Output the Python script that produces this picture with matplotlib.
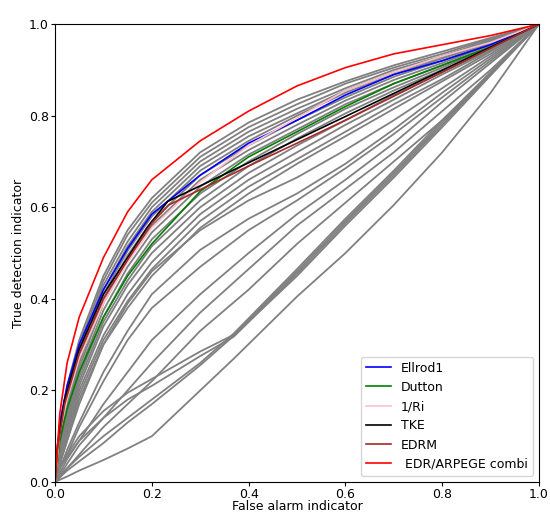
import numpy as np
import matplotlib
matplotlib.use('Agg')
import matplotlib.pyplot as plt

# common false alarm grid for the curves
far = [0, 0.01, 0.025, 0.05, 0.1, 0.15, 0.2, 0.3, 0.4, 0.5, 0.6, 0.7, 0.8, 0.9, 1.0]
# the lower bundle meets near far = 0.37
far_low = [0, 0.01, 0.025, 0.05, 0.1, 0.15, 0.2, 0.3, 0.37, 0.5, 0.6, 0.7, 0.8, 0.9, 1.0]

# grey curves (other indicators), true detection at each far point
grey_upper = [
    [0, 0.12, 0.21, 0.31, 0.45, 0.55, 0.62, 0.72, 0.785, 0.835, 0.875, 0.91, 0.94, 0.97, 1],
    [0, 0.11, 0.20, 0.30, 0.44, 0.54, 0.61, 0.71, 0.775, 0.825, 0.87, 0.905, 0.935, 0.968, 1],
    [0, 0.10, 0.19, 0.29, 0.43, 0.525, 0.60, 0.70, 0.765, 0.815, 0.86, 0.90, 0.93, 0.965, 1],
    [0, 0.10, 0.18, 0.28, 0.42, 0.515, 0.59, 0.69, 0.755, 0.805, 0.855, 0.895, 0.928, 0.963, 1],
    [0, 0.09, 0.17, 0.27, 0.41, 0.505, 0.58, 0.68, 0.745, 0.80, 0.85, 0.89, 0.925, 0.96, 1],
    [0, 0.09, 0.16, 0.26, 0.40, 0.495, 0.57, 0.67, 0.735, 0.79, 0.84, 0.885, 0.92, 0.958, 1],
    [0, 0.08, 0.15, 0.25, 0.39, 0.485, 0.56, 0.66, 0.725, 0.78, 0.833, 0.878, 0.915, 0.955, 1],
    [0, 0.07, 0.14, 0.24, 0.375, 0.47, 0.545, 0.645, 0.715, 0.77, 0.825, 0.87, 0.91, 0.952, 1],
    [0, 0.07, 0.13, 0.23, 0.36, 0.455, 0.53, 0.63, 0.70, 0.76, 0.815, 0.862, 0.905, 0.95, 1],
    [0, 0.06, 0.12, 0.22, 0.35, 0.44, 0.515, 0.615, 0.69, 0.75, 0.805, 0.855, 0.90, 0.948, 1],
    [0, 0.06, 0.12, 0.21, 0.34, 0.43, 0.50, 0.60, 0.675, 0.735, 0.79, 0.845, 0.895, 0.945, 1],
    [0, 0.05, 0.11, 0.20, 0.32, 0.41, 0.48, 0.585, 0.66, 0.72, 0.78, 0.835, 0.89, 0.942, 1],
    [0, 0.05, 0.10, 0.19, 0.31, 0.395, 0.465, 0.57, 0.645, 0.705, 0.765, 0.825, 0.88, 0.94, 1],
    [0, 0.04, 0.09, 0.18, 0.30, 0.38, 0.45, 0.555, 0.63, 0.695, 0.755, 0.815, 0.875, 0.935, 1],
]
grey_middle = [
    [0, 0.04, 0.09, 0.17, 0.30, 0.39, 0.46, 0.55, 0.615, 0.665, 0.725, 0.79, 0.86, 0.93, 1],
    [0, 0.03, 0.07, 0.13, 0.24, 0.33, 0.41, 0.507, 0.575, 0.63, 0.695, 0.77, 0.85, 0.925, 1],
    [0, 0.03, 0.06, 0.12, 0.22, 0.31, 0.38, 0.47, 0.55, 0.615, 0.685, 0.76, 0.84, 0.92, 1],
    [0, 0.02, 0.05, 0.09, 0.17, 0.24, 0.31, 0.41, 0.50, 0.585, 0.66, 0.74, 0.83, 0.915, 1],
    [0, 0.015, 0.04, 0.08, 0.14, 0.20, 0.26, 0.37, 0.465, 0.56, 0.64, 0.72, 0.81, 0.90, 1],
    [0, 0.01, 0.03, 0.06, 0.12, 0.17, 0.22, 0.33, 0.42, 0.52, 0.61, 0.70, 0.79, 0.89, 1],
]
grey_lower = [
    [0, 0.03, 0.055, 0.09, 0.14, 0.18, 0.21, 0.275, 0.318, 0.455, 0.565, 0.67, 0.78, 0.89, 1],
    [0, 0.035, 0.06, 0.10, 0.155, 0.195, 0.225, 0.285, 0.322, 0.46, 0.57, 0.675, 0.785, 0.892, 1],
    [0, 0.015, 0.03, 0.055, 0.10, 0.14, 0.18, 0.26, 0.325, 0.465, 0.575, 0.68, 0.79, 0.895, 1],
    [0, 0.01, 0.025, 0.045, 0.085, 0.13, 0.17, 0.255, 0.32, 0.45, 0.56, 0.665, 0.775, 0.888, 1],
    [0, 0.005, 0.012, 0.025, 0.048, 0.073, 0.10, 0.20, 0.27, 0.405, 0.50, 0.605, 0.72, 0.85, 1],
]

# highlighted indicators
ellrod1 = [0, 0.13, 0.21, 0.30, 0.42, 0.51, 0.585, 0.67, 0.74, 0.79, 0.845, 0.89, 0.92, 0.955, 1]
dutton = [0, 0.09, 0.16, 0.24, 0.36, 0.45, 0.52, 0.635, 0.71, 0.765, 0.82, 0.87, 0.91, 0.95, 1]
inv_ri = [0, 0.11, 0.18, 0.27, 0.39, 0.48, 0.555, 0.655, 0.735, 0.795, 0.855, 0.895, 0.93, 0.96, 1]
combi = [0, 0.15, 0.26, 0.36, 0.49, 0.59, 0.66, 0.745, 0.81, 0.865, 0.905, 0.935, 0.955, 0.975, 1]

# TKE / EDRM only have a few thresholds
tke_far = [0, 0.005, 0.02, 0.05, 0.1, 0.15, 0.19, 0.233, 1.0]
tke_pod = [0, 0.08, 0.18, 0.29, 0.41, 0.49, 0.555, 0.613, 1.0]
edrm_far = [0, 0.005, 0.02, 0.05, 0.1, 0.15, 0.2, 0.235, 0.4, 0.6, 0.8, 1.0]
edrm_pod = [0, 0.07, 0.17, 0.28, 0.40, 0.485, 0.565, 0.605, 0.69, 0.79, 0.895, 1.0]


fig = plt.figure(figsize=(5.5, 5.13), dpi=100)
ax = fig.add_axes([0.1, 0.0604, 0.88, 0.8926])

for pod in grey_upper + grey_middle:
    ax.plot(far, pod, color='grey', lw=1.3)
for pod in grey_lower:
    ax.plot(far_low, pod, color='grey', lw=1.3)

ax.plot(far, ellrod1, color='blue', lw=1.2, label='Ellrod1')
ax.plot(far, dutton, color='green', lw=1.2, label='Dutton')
ax.plot(far, inv_ri, color='pink', lw=1.2, label='1/Ri')
ax.plot(tke_far, tke_pod, color='black', lw=1.2, label='TKE')
ax.plot(edrm_far, edrm_pod, color='brown', lw=1.2, label='EDRM')
ax.plot(far, combi, color='red', lw=1.2, label=' EDR/ARPEGE combi')

ax.set_xlim(0, 1)
ax.set_ylim(0, 1)
ax.set_xlabel('False alarm indicator', fontsize=9, labelpad=-1)
ax.set_ylabel('True detection indicator', fontsize=9, labelpad=3)
ax.tick_params(labelsize=9, length=3, pad=1.5)
ax.legend(loc='lower right', fontsize=9)

fig.savefig('out.png', dpi=100)
